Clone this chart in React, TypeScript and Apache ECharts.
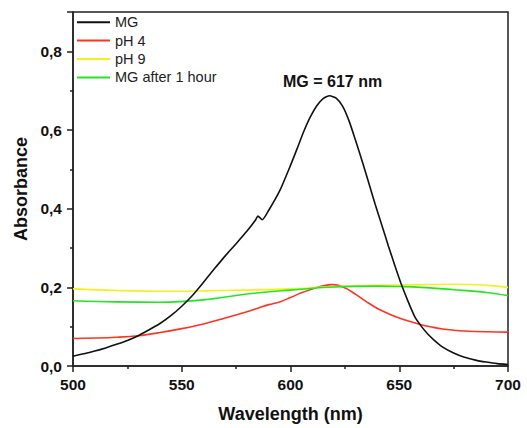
import React, { useEffect, useRef } from "react";
import * as echarts from "echarts";

const mgWavelength = [500, 505, 510, 515, 520, 525, 530, 535, 540, 545, 550, 555, 560, 565, 570, 575, 580, 584, 585, 587, 590, 595, 600, 603, 606, 609, 612, 615, 618, 621, 624, 627, 630, 633, 636, 639, 642, 645, 648, 651, 654, 657, 660, 663, 666, 670, 675, 680, 685, 690, 695, 700];
const mgValues = [0.025, 0.031, 0.038, 0.046, 0.055, 0.065, 0.077, 0.092, 0.108, 0.128, 0.152, 0.18, 0.213, 0.247, 0.28, 0.311, 0.343, 0.372, 0.381, 0.372, 0.396, 0.445, 0.51, 0.552, 0.595, 0.632, 0.661, 0.68, 0.687, 0.681, 0.66, 0.622, 0.572, 0.52, 0.465, 0.41, 0.358, 0.305, 0.255, 0.207, 0.165, 0.127, 0.102, 0.082, 0.066, 0.048, 0.033, 0.022, 0.015, 0.01, 0.006, 0.004];

const ph4Wavelength = [500, 510, 520, 530, 540, 550, 560, 570, 580, 585, 590, 595, 600, 605, 610, 615, 619, 622, 626, 630, 635, 640, 645, 650, 655, 660, 665, 670, 675, 680, 690, 700];
const ph4Values = [0.07, 0.071, 0.073, 0.077, 0.085, 0.095, 0.107, 0.122, 0.138, 0.147, 0.156, 0.163, 0.174, 0.186, 0.196, 0.204, 0.207, 0.205, 0.196, 0.182, 0.163, 0.146, 0.133, 0.122, 0.113, 0.105, 0.099, 0.094, 0.091, 0.089, 0.087, 0.086];

const ph9Wavelength = [500, 520, 540, 560, 580, 600, 620, 640, 660, 675, 690, 700];
const ph9Values = [0.196, 0.192, 0.19, 0.191, 0.193, 0.196, 0.202, 0.205, 0.207, 0.208, 0.205, 0.2];

const mg1hWavelength = [500, 520, 540, 560, 580, 600, 620, 640, 650, 660, 675, 690, 700];
const mg1hValues = [0.166, 0.163, 0.162, 0.168, 0.183, 0.193, 0.201, 0.203, 0.202, 0.2, 0.194, 0.187, 0.179];

const seriesNames = ["MG", "pH 4", "pH 9", "MG after 1 hour"];
const seriesColors = ["#111111", "#ff3322", "#f2f01e", "#22e622"];
const xTicks = [500, 550, 600, 650, 700];
const annotation = "MG = 617 nm";

const FONT = "'Liberation Sans', Arial, sans-serif";

function pairs(xs: number[], ys: number[]) {
  return xs.map((x, i) => [x, ys[i]]);
}

export default function App() {
  const ref = useRef<HTMLDivElement>(null);
  useEffect(() => {
    if (!ref.current) return;
    const chart = echarts.init(ref.current, undefined, { renderer: "svg" });
    const datasets = [
      pairs(mgWavelength, mgValues),
      pairs(ph4Wavelength, ph4Values),
      pairs(ph9Wavelength, ph9Values),
      pairs(mg1hWavelength, mg1hValues),
    ];
    chart.setOption({
      animation: false,
      backgroundColor: "#ffffff",
      textStyle: { fontFamily: FONT },
      grid: {
        left: 73,
        right: 19,
        top: 12,
        bottom: 62,
        show: true,
        borderColor: "#222",
        borderWidth: 1.5,
        outerBoundsMode: "none",
      },
      legend: {
        orient: "vertical",
        left: 77,
        top: 14,
        icon: "rect",
        itemWidth: 33,
        itemHeight: 2,
        itemGap: 2,
        padding: 0,
        textStyle: { fontSize: 14.5, color: "#222", fontFamily: FONT, lineHeight: 16.4 },
        data: seriesNames,
      },
      xAxis: {
        type: "value",
        min: 500,
        max: 700,
        interval: 50,
        name: "Wavelength (nm)",
        nameLocation: "middle",
        nameGap: 39,
        nameTextStyle: { fontSize: 18, fontWeight: "bold", color: "#111", fontFamily: FONT },
        axisLine: { show: true, lineStyle: { color: "#222", width: 1.5 } },
        axisTick: { show: true, inside: false, length: 6, lineStyle: { color: "#222", width: 1.5 } },
        minorTick: { show: true, splitNumber: 2, length: 3, lineStyle: { color: "#222", width: 1.5 } },
        splitLine: { show: false },
        axisLabel: {
          fontSize: 15.5,
          fontWeight: "bold",
          color: "#111",
          margin: 10,
          formatter: (v: number) => (xTicks.includes(v) ? String(v) : ""),
        },
      },
      yAxis: {
        type: "value",
        min: 0,
        max: 0.9,
        interval: 0.2,
        name: "Absorbance",
        nameLocation: "middle",
        nameGap: 42,
        nameTextStyle: { fontSize: 18, fontWeight: "bold", color: "#111", fontFamily: FONT },
        axisLine: { show: true, lineStyle: { color: "#222", width: 1.5 } },
        axisTick: { show: true, inside: false, length: 6, lineStyle: { color: "#222", width: 1.5 } },
        minorTick: { show: true, splitNumber: 2, length: 3, lineStyle: { color: "#222", width: 1.5 } },
        splitLine: { show: false },
        axisLabel: {
          fontSize: 15.5,
          fontWeight: "bold",
          color: "#111",
          margin: 11,
          showMaxLabel: false,
          formatter: (v: number) => (v > 0.85 ? "" : v.toFixed(1).replace(".", ",")),
        },
      },
      graphic: [
        {
          type: "text",
          left: 283,
          top: 73,
          style: {
            text: annotation,
            fontSize: 16,
            fontWeight: "bold",
            fill: "#111",
            fontFamily: FONT,
          },
        },
      ],
      series: seriesNames.map((name, i) => ({
        name,
        type: "line",
        data: datasets[i],
        symbol: "none",
        smooth: i === 0 ? 0.2 : 0.4,
        color: seriesColors[i],
        itemStyle: { color: seriesColors[i] },
        lineStyle: { width: 1.6, color: seriesColors[i] },
        z: i === 0 ? 5 : 3,
      })),
    });
    return () => chart.dispose();
  }, []);
  return (
    <div
      ref={ref}
      style={{ position: "fixed", left: 0, top: 0, width: 527, height: 428, background: "#fff" }}
    />
  );
}
